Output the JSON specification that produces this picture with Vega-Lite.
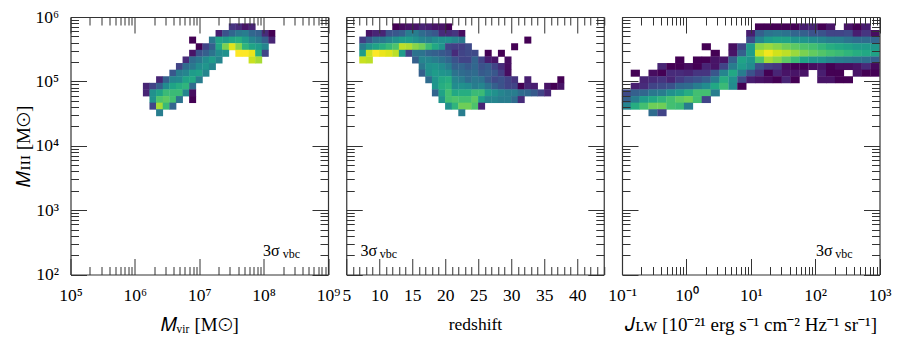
{"$schema":"https://vega.github.io/schema/vega-lite/v6.json","background":"white","padding":{"left":14.5,"top":8,"right":4,"bottom":4},"spacing":17.75,"bounds":"flush","config":{"view":{"stroke":null},"font":"Liberation Serif"},
"datasets":{
"p1":[
{"x":3.26e7,"y":7.02e5,"c":0.15},{"x":4.12e7,"y":7.02e5,"c":0.12},{"x":5.22e7,"y":7.02e5,"c":0.05},{"x":6.62e7,"y":7.02e5,"c":0.1},
{"x":2.03e7,"y":5.54e5,"c":0.08},{"x":2.57e7,"y":5.54e5,"c":0.25},{"x":3.26e7,"y":5.54e5,"c":0.33},{"x":4.12e7,"y":5.54e5,"c":0.4},{"x":5.22e7,"y":5.54e5,"c":0.42},{"x":6.62e7,"y":5.54e5,"c":0.33},{"x":8.38e7,"y":5.54e5,"c":0.3},{"x":1.06e8,"y":5.54e5,"c":0.12},{"x":1.34e8,"y":5.54e5,"c":0},
{"x":7.89e6,"y":4.38e5,"c":0},{"x":1.6e7,"y":4.38e5,"c":0.4},{"x":2.03e7,"y":4.38e5,"c":0.58},{"x":2.57e7,"y":4.38e5,"c":0.55},{"x":3.26e7,"y":4.38e5,"c":0.6},{"x":4.12e7,"y":4.38e5,"c":0.62},{"x":5.22e7,"y":4.38e5,"c":0.55},{"x":6.62e7,"y":4.38e5,"c":0.45},{"x":8.38e7,"y":4.38e5,"c":0.4},{"x":1.06e8,"y":4.38e5,"c":0.3},{"x":1.34e8,"y":4.38e5,"c":0.1},
{"x":1e7,"y":3.45e5,"c":0},{"x":1.27e7,"y":3.45e5,"c":0.2},{"x":1.6e7,"y":3.45e5,"c":0.3},{"x":2.03e7,"y":3.45e5,"c":0.6},{"x":2.57e7,"y":3.45e5,"c":0.8},{"x":3.26e7,"y":3.45e5,"c":0.95},{"x":4.12e7,"y":3.45e5,"c":0.82},{"x":5.22e7,"y":3.45e5,"c":0.65},{"x":6.62e7,"y":3.45e5,"c":0.58},{"x":8.38e7,"y":3.45e5,"c":0.55},{"x":1.06e8,"y":3.45e5,"c":0.45},
{"x":7.89e6,"y":2.73e5,"c":0.05},{"x":1e7,"y":2.73e5,"c":0.25},{"x":1.27e7,"y":2.73e5,"c":0.3},{"x":1.6e7,"y":2.73e5,"c":0.38},{"x":2.03e7,"y":2.73e5,"c":0.48},{"x":2.57e7,"y":2.73e5,"c":0.5},{"x":4.12e7,"y":2.73e5,"c":1},{"x":5.22e7,"y":2.73e5,"c":1},{"x":6.62e7,"y":2.73e5,"c":0.97},{"x":8.38e7,"y":2.73e5,"c":0.62},{"x":1.06e8,"y":2.73e5,"c":0.2},
{"x":6.24e6,"y":2.15e5,"c":0.12},{"x":7.89e6,"y":2.15e5,"c":0.35},{"x":1e7,"y":2.15e5,"c":0.4},{"x":1.27e7,"y":2.15e5,"c":0.48},{"x":1.6e7,"y":2.15e5,"c":0.55},{"x":2.03e7,"y":2.15e5,"c":0.45},{"x":6.62e7,"y":2.15e5,"c":0.92},{"x":8.38e7,"y":2.15e5,"c":0.87},
{"x":4.92e6,"y":1.7e5,"c":0.2},{"x":6.24e6,"y":1.7e5,"c":0.35},{"x":7.89e6,"y":1.7e5,"c":0.4},{"x":1e7,"y":1.7e5,"c":0.48},{"x":1.27e7,"y":1.7e5,"c":0.52},{"x":1.6e7,"y":1.7e5,"c":0.45},
{"x":3.89e6,"y":1.34e5,"c":0.27},{"x":4.92e6,"y":1.34e5,"c":0.42},{"x":6.24e6,"y":1.34e5,"c":0.45},{"x":7.89e6,"y":1.34e5,"c":0.55},{"x":1e7,"y":1.34e5,"c":0.57},{"x":1.27e7,"y":1.34e5,"c":0.45},
{"x":2.42e6,"y":1.06e5,"c":0.1},{"x":3.07e6,"y":1.06e5,"c":0.3},{"x":3.89e6,"y":1.06e5,"c":0.45},{"x":4.92e6,"y":1.06e5,"c":0.47},{"x":6.24e6,"y":1.06e5,"c":0.58},{"x":7.89e6,"y":1.06e5,"c":0.6},{"x":1e7,"y":1.06e5,"c":0.42},
{"x":1.51e6,"y":8.38e4,"c":0.1},{"x":1.91e6,"y":8.38e4,"c":0.2},{"x":2.42e6,"y":8.38e4,"c":0.3},{"x":3.07e6,"y":8.38e4,"c":0.48},{"x":3.89e6,"y":8.38e4,"c":0.58},{"x":4.92e6,"y":8.38e4,"c":0.62},{"x":6.24e6,"y":8.38e4,"c":0.65},{"x":7.89e6,"y":8.38e4,"c":0.35},
{"x":1.51e6,"y":6.62e4,"c":0.1},{"x":1.91e6,"y":6.62e4,"c":0.5},{"x":2.42e6,"y":6.62e4,"c":0.58},{"x":3.07e6,"y":6.62e4,"c":0.68},{"x":3.89e6,"y":6.62e4,"c":0.68},{"x":4.92e6,"y":6.62e4,"c":0.68},{"x":6.24e6,"y":6.62e4,"c":0.45},{"x":7.89e6,"y":6.62e4,"c":0.03},
{"x":1.91e6,"y":5.22e4,"c":0.5},{"x":2.42e6,"y":5.22e4,"c":0.72},{"x":3.07e6,"y":5.22e4,"c":0.75},{"x":3.89e6,"y":5.22e4,"c":0.7},{"x":4.92e6,"y":5.22e4,"c":0.38},{"x":7.89e6,"y":5.22e4,"c":0},
{"x":1.91e6,"y":4.12e4,"c":0.2},{"x":2.42e6,"y":4.12e4,"c":0.87},{"x":3.07e6,"y":4.12e4,"c":0.68},{"x":3.89e6,"y":4.12e4,"c":0.32},
{"x":2.42e6,"y":3.26e4,"c":0.42}
],
"p2":[
{"x":12.5,"y":7.02e5,"c":0},{"x":13.5,"y":7.02e5,"c":0.03},{"x":14.5,"y":7.02e5,"c":0.05},{"x":15.5,"y":7.02e5,"c":0.05},{"x":16.5,"y":7.02e5,"c":0.1},{"x":17.5,"y":7.02e5,"c":0.08},{"x":18.5,"y":7.02e5,"c":0.05},{"x":19.5,"y":7.02e5,"c":0.05},{"x":20.5,"y":7.02e5,"c":0},
{"x":8.5,"y":5.54e5,"c":0.05},{"x":9.5,"y":5.54e5,"c":0.1},{"x":10.5,"y":5.54e5,"c":0.1},{"x":11.5,"y":5.54e5,"c":0.25},{"x":12.5,"y":5.54e5,"c":0.27},{"x":13.5,"y":5.54e5,"c":0.3},{"x":14.5,"y":5.54e5,"c":0.42},{"x":15.5,"y":5.54e5,"c":0.42},{"x":16.5,"y":5.54e5,"c":0.35},{"x":17.5,"y":5.54e5,"c":0.3},{"x":18.5,"y":5.54e5,"c":0.27},{"x":19.5,"y":5.54e5,"c":0.12},{"x":20.5,"y":5.54e5,"c":0.12},{"x":21.5,"y":5.54e5,"c":0.15},{"x":22.5,"y":5.54e5,"c":0.03},
{"x":7.5,"y":4.38e5,"c":0.18},{"x":8.5,"y":4.38e5,"c":0.28},{"x":9.5,"y":4.38e5,"c":0.38},{"x":10.5,"y":4.38e5,"c":0.4},{"x":11.5,"y":4.38e5,"c":0.45},{"x":12.5,"y":4.38e5,"c":0.5},{"x":13.5,"y":4.38e5,"c":0.55},{"x":14.5,"y":4.38e5,"c":0.55},{"x":15.5,"y":4.38e5,"c":0.5},{"x":16.5,"y":4.38e5,"c":0.45},{"x":17.5,"y":4.38e5,"c":0.43},{"x":18.5,"y":4.38e5,"c":0.48},{"x":19.5,"y":4.38e5,"c":0.5},{"x":20.5,"y":4.38e5,"c":0.5},{"x":21.5,"y":4.38e5,"c":0.45},{"x":22.5,"y":4.38e5,"c":0.4},{"x":32.5,"y":4.38e5,"c":0},
{"x":7.5,"y":3.45e5,"c":0.42},{"x":8.5,"y":3.45e5,"c":0.52},{"x":9.5,"y":3.45e5,"c":0.58},{"x":10.5,"y":3.45e5,"c":0.62},{"x":11.5,"y":3.45e5,"c":0.67},{"x":12.5,"y":3.45e5,"c":0.72},{"x":13.5,"y":3.45e5,"c":0.9},{"x":14.5,"y":3.45e5,"c":0.88},{"x":15.5,"y":3.45e5,"c":0.82},{"x":16.5,"y":3.45e5,"c":0.78},{"x":17.5,"y":3.45e5,"c":0.68},{"x":18.5,"y":3.45e5,"c":0.6},{"x":19.5,"y":3.45e5,"c":0.52},{"x":20.5,"y":3.45e5,"c":0.2},{"x":21.5,"y":3.45e5,"c":0.18},{"x":22.5,"y":3.45e5,"c":0.18},{"x":23.5,"y":3.45e5,"c":0.22},{"x":30.5,"y":3.45e5,"c":0},
{"x":7.5,"y":2.73e5,"c":0.55},{"x":8.5,"y":2.73e5,"c":0.92},{"x":9.5,"y":2.73e5,"c":1},{"x":10.5,"y":2.73e5,"c":0.97},{"x":11.5,"y":2.73e5,"c":0.95},{"x":12.5,"y":2.73e5,"c":0.9},{"x":13.5,"y":2.73e5,"c":0.55},{"x":14.5,"y":2.73e5,"c":0.2},{"x":15.5,"y":2.73e5,"c":0.38},{"x":16.5,"y":2.73e5,"c":0.38},{"x":17.5,"y":2.73e5,"c":0.32},{"x":18.5,"y":2.73e5,"c":0.3},{"x":19.5,"y":2.73e5,"c":0.28},{"x":20.5,"y":2.73e5,"c":0.25},{"x":21.5,"y":2.73e5,"c":0.12},{"x":22.5,"y":2.73e5,"c":0.2},{"x":23.5,"y":2.73e5,"c":0.22},{"x":24.5,"y":2.73e5,"c":0.22},{"x":26.5,"y":2.73e5,"c":0},{"x":28.5,"y":2.73e5,"c":0},
{"x":7.5,"y":2.15e5,"c":0.92},{"x":8.5,"y":2.15e5,"c":0.9},{"x":15.5,"y":2.15e5,"c":0.3},{"x":16.5,"y":2.15e5,"c":0.45},{"x":17.5,"y":2.15e5,"c":0.45},{"x":18.5,"y":2.15e5,"c":0.42},{"x":19.5,"y":2.15e5,"c":0.38},{"x":20.5,"y":2.15e5,"c":0.33},{"x":21.5,"y":2.15e5,"c":0.25},{"x":22.5,"y":2.15e5,"c":0.2},{"x":23.5,"y":2.15e5,"c":0.2},{"x":24.5,"y":2.15e5,"c":0.32},{"x":25.5,"y":2.15e5,"c":0.2},{"x":26.5,"y":2.15e5,"c":0.08},{"x":27.5,"y":2.15e5,"c":0.05},{"x":29.5,"y":2.15e5,"c":0.03},
{"x":16.5,"y":1.7e5,"c":0.4},{"x":17.5,"y":1.7e5,"c":0.5},{"x":18.5,"y":1.7e5,"c":0.52},{"x":19.5,"y":1.7e5,"c":0.48},{"x":20.5,"y":1.7e5,"c":0.42},{"x":21.5,"y":1.7e5,"c":0.3},{"x":22.5,"y":1.7e5,"c":0.32},{"x":23.5,"y":1.7e5,"c":0.28},{"x":24.5,"y":1.7e5,"c":0.33},{"x":25.5,"y":1.7e5,"c":0.25},{"x":26.5,"y":1.7e5,"c":0.28},{"x":27.5,"y":1.7e5,"c":0.2},{"x":28.5,"y":1.7e5,"c":0.12},{"x":29.5,"y":1.7e5,"c":0.03},
{"x":16.5,"y":1.34e5,"c":0.3},{"x":17.5,"y":1.34e5,"c":0.5},{"x":18.5,"y":1.34e5,"c":0.55},{"x":19.5,"y":1.34e5,"c":0.52},{"x":20.5,"y":1.34e5,"c":0.5},{"x":21.5,"y":1.34e5,"c":0.38},{"x":22.5,"y":1.34e5,"c":0.35},{"x":23.5,"y":1.34e5,"c":0.33},{"x":24.5,"y":1.34e5,"c":0.35},{"x":25.5,"y":1.34e5,"c":0.28},{"x":26.5,"y":1.34e5,"c":0.3},{"x":27.5,"y":1.34e5,"c":0.27},{"x":28.5,"y":1.34e5,"c":0.18},{"x":29.5,"y":1.34e5,"c":0.03},
{"x":17.5,"y":1.06e5,"c":0.35},{"x":18.5,"y":1.06e5,"c":0.52},{"x":19.5,"y":1.06e5,"c":0.6},{"x":20.5,"y":1.06e5,"c":0.62},{"x":21.5,"y":1.06e5,"c":0.45},{"x":22.5,"y":1.06e5,"c":0.42},{"x":23.5,"y":1.06e5,"c":0.35},{"x":24.5,"y":1.06e5,"c":0.4},{"x":25.5,"y":1.06e5,"c":0.38},{"x":26.5,"y":1.06e5,"c":0.28},{"x":27.5,"y":1.06e5,"c":0.22},{"x":28.5,"y":1.06e5,"c":0.25},{"x":29.5,"y":1.06e5,"c":0.2},{"x":30.5,"y":1.06e5,"c":0.15},{"x":32.5,"y":1.06e5,"c":0.08},{"x":37.5,"y":1.06e5,"c":0},
{"x":18.5,"y":8.38e4,"c":0.52},{"x":19.5,"y":8.38e4,"c":0.62},{"x":20.5,"y":8.38e4,"c":0.65},{"x":21.5,"y":8.38e4,"c":0.48},{"x":22.5,"y":8.38e4,"c":0.5},{"x":23.5,"y":8.38e4,"c":0.48},{"x":24.5,"y":8.38e4,"c":0.42},{"x":25.5,"y":8.38e4,"c":0.45},{"x":26.5,"y":8.38e4,"c":0.38},{"x":27.5,"y":8.38e4,"c":0.3},{"x":28.5,"y":8.38e4,"c":0.25},{"x":29.5,"y":8.38e4,"c":0.2},{"x":30.5,"y":8.38e4,"c":0.2},{"x":31.5,"y":8.38e4,"c":0},{"x":32.5,"y":8.38e4,"c":0.1},{"x":33.5,"y":8.38e4,"c":0.08},{"x":35.5,"y":8.38e4,"c":0.05},{"x":36.5,"y":8.38e4,"c":0},{"x":37.5,"y":8.38e4,"c":0.05},
{"x":18.5,"y":6.62e4,"c":0.32},{"x":19.5,"y":6.62e4,"c":0.58},{"x":20.5,"y":6.62e4,"c":0.7},{"x":21.5,"y":6.62e4,"c":0.6},{"x":22.5,"y":6.62e4,"c":0.62},{"x":23.5,"y":6.62e4,"c":0.62},{"x":24.5,"y":6.62e4,"c":0.68},{"x":25.5,"y":6.62e4,"c":0.68},{"x":26.5,"y":6.62e4,"c":0.55},{"x":27.5,"y":6.62e4,"c":0.5},{"x":28.5,"y":6.62e4,"c":0.45},{"x":29.5,"y":6.62e4,"c":0.42},{"x":30.5,"y":6.62e4,"c":0.42},{"x":31.5,"y":6.62e4,"c":0.35},{"x":32.5,"y":6.62e4,"c":0.33},{"x":33.5,"y":6.62e4,"c":0.28},{"x":34.5,"y":6.62e4,"c":0.2},{"x":35.5,"y":6.62e4,"c":0.1},
{"x":19.5,"y":5.22e4,"c":0.52},{"x":20.5,"y":5.22e4,"c":0.7},{"x":21.5,"y":5.22e4,"c":0.72},{"x":22.5,"y":5.22e4,"c":0.7},{"x":23.5,"y":5.22e4,"c":0.7},{"x":24.5,"y":5.22e4,"c":0.75},{"x":25.5,"y":5.22e4,"c":0.55},{"x":26.5,"y":5.22e4,"c":0.45},{"x":27.5,"y":5.22e4,"c":0.45},{"x":28.5,"y":5.22e4,"c":0.42},{"x":29.5,"y":5.22e4,"c":0.42},{"x":30.5,"y":5.22e4,"c":0.35},{"x":31.5,"y":5.22e4,"c":0.12},
{"x":20.5,"y":4.12e4,"c":0.5},{"x":21.5,"y":4.12e4,"c":0.65},{"x":22.5,"y":4.12e4,"c":0.78},{"x":23.5,"y":4.12e4,"c":0.78},{"x":24.5,"y":4.12e4,"c":0.72},{"x":25.5,"y":4.12e4,"c":0.1},
{"x":22.5,"y":3.26e4,"c":0.42}
],
"p3":[
{"x":13.7,"y":7.02e5,"c":0},{"x":18.9,"y":7.02e5,"c":0},{"x":25.9,"y":7.02e5,"c":0},{"x":35.6,"y":7.02e5,"c":0},{"x":48.9,"y":7.02e5,"c":0},{"x":67.2,"y":7.02e5,"c":0.08},{"x":92.4,"y":7.02e5,"c":0.1},{"x":127,"y":7.02e5,"c":0},{"x":174,"y":7.02e5,"c":0.05},{"x":329,"y":7.02e5,"c":0.05},{"x":452,"y":7.02e5,"c":0},{"x":621,"y":7.02e5,"c":0.08},
{"x":10,"y":5.54e5,"c":0.08},{"x":13.7,"y":5.54e5,"c":0.3},{"x":18.9,"y":5.54e5,"c":0.38},{"x":25.9,"y":5.54e5,"c":0.4},{"x":35.6,"y":5.54e5,"c":0.38},{"x":48.9,"y":5.54e5,"c":0.32},{"x":67.2,"y":5.54e5,"c":0.3},{"x":92.4,"y":5.54e5,"c":0.25},{"x":127,"y":5.54e5,"c":0.25},{"x":174,"y":5.54e5,"c":0.2},{"x":239,"y":5.54e5,"c":0.2},{"x":329,"y":5.54e5,"c":0.22},{"x":452,"y":5.54e5,"c":0.08},{"x":621,"y":5.54e5,"c":0.15},{"x":853,"y":5.54e5,"c":0.03},
{"x":10,"y":4.38e5,"c":0.22},{"x":13.7,"y":4.38e5,"c":0.45},{"x":18.9,"y":4.38e5,"c":0.55},{"x":25.9,"y":4.38e5,"c":0.58},{"x":35.6,"y":4.38e5,"c":0.58},{"x":48.9,"y":4.38e5,"c":0.52},{"x":67.2,"y":4.38e5,"c":0.52},{"x":92.4,"y":4.38e5,"c":0.48},{"x":127,"y":4.38e5,"c":0.45},{"x":174,"y":4.38e5,"c":0.42},{"x":239,"y":4.38e5,"c":0.42},{"x":329,"y":4.38e5,"c":0.38},{"x":452,"y":4.38e5,"c":0.35},{"x":621,"y":4.38e5,"c":0.35},{"x":853,"y":4.38e5,"c":0.32},
{"x":2.04,"y":3.45e5,"c":0},{"x":5.3,"y":3.45e5,"c":0.03},{"x":7.28,"y":3.45e5,"c":0.2},{"x":10,"y":3.45e5,"c":0.55},{"x":13.7,"y":3.45e5,"c":0.82},{"x":18.9,"y":3.45e5,"c":0.85},{"x":25.9,"y":3.45e5,"c":0.82},{"x":35.6,"y":3.45e5,"c":0.78},{"x":48.9,"y":3.45e5,"c":0.75},{"x":67.2,"y":3.45e5,"c":0.72},{"x":92.4,"y":3.45e5,"c":0.7},{"x":127,"y":3.45e5,"c":0.66},{"x":174,"y":3.45e5,"c":0.62},{"x":239,"y":3.45e5,"c":0.6},{"x":329,"y":3.45e5,"c":0.58},{"x":452,"y":3.45e5,"c":0.55},{"x":621,"y":3.45e5,"c":0.55},{"x":853,"y":3.45e5,"c":0.53},
{"x":2.81,"y":2.73e5,"c":0},{"x":5.3,"y":2.73e5,"c":0.05},{"x":7.28,"y":2.73e5,"c":0.3},{"x":10,"y":2.73e5,"c":0.55},{"x":13.7,"y":2.73e5,"c":0.92},{"x":18.9,"y":2.73e5,"c":0.98},{"x":25.9,"y":2.73e5,"c":0.93},{"x":35.6,"y":2.73e5,"c":0.9},{"x":48.9,"y":2.73e5,"c":0.85},{"x":67.2,"y":2.73e5,"c":0.8},{"x":92.4,"y":2.73e5,"c":0.76},{"x":127,"y":2.73e5,"c":0.73},{"x":174,"y":2.73e5,"c":0.7},{"x":239,"y":2.73e5,"c":0.68},{"x":329,"y":2.73e5,"c":0.65},{"x":452,"y":2.73e5,"c":0.62},{"x":621,"y":2.73e5,"c":0.6},{"x":853,"y":2.73e5,"c":0.58},
{"x":0.789,"y":2.15e5,"c":0},{"x":1.49,"y":2.15e5,"c":0},{"x":2.04,"y":2.15e5,"c":0},{"x":2.81,"y":2.15e5,"c":0.05},{"x":3.85,"y":2.15e5,"c":0.05},{"x":5.3,"y":2.15e5,"c":0.3},{"x":7.28,"y":2.15e5,"c":0.58},{"x":10,"y":2.15e5,"c":0.52},{"x":13.7,"y":2.15e5,"c":0.72},{"x":18.9,"y":2.15e5,"c":0.87},{"x":25.9,"y":2.15e5,"c":0.82},{"x":35.6,"y":2.15e5,"c":0.75},{"x":48.9,"y":2.15e5,"c":0.68},{"x":67.2,"y":2.15e5,"c":0.58},{"x":92.4,"y":2.15e5,"c":0.52},{"x":127,"y":2.15e5,"c":0.5},{"x":174,"y":2.15e5,"c":0.45},{"x":239,"y":2.15e5,"c":0.42},{"x":329,"y":2.15e5,"c":0.4},{"x":452,"y":2.15e5,"c":0.38},{"x":621,"y":2.15e5,"c":0.36},{"x":853,"y":2.15e5,"c":0.3},
{"x":0.418,"y":1.7e5,"c":0.1},{"x":0.574,"y":1.7e5,"c":0},{"x":0.789,"y":1.7e5,"c":0},{"x":1.08,"y":1.7e5,"c":0.03},{"x":1.49,"y":1.7e5,"c":0},{"x":2.04,"y":1.7e5,"c":0.1},{"x":2.81,"y":1.7e5,"c":0.05},{"x":3.85,"y":1.7e5,"c":0.2},{"x":5.3,"y":1.7e5,"c":0.42},{"x":7.28,"y":1.7e5,"c":0.55},{"x":10,"y":1.7e5,"c":0.48},{"x":13.7,"y":1.7e5,"c":0.25},{"x":18.9,"y":1.7e5,"c":0.18},{"x":25.9,"y":1.7e5,"c":0.15},{"x":35.6,"y":1.7e5,"c":0.03},{"x":48.9,"y":1.7e5,"c":0},{"x":67.2,"y":1.7e5,"c":0},{"x":92.4,"y":1.7e5,"c":0.03},{"x":127,"y":1.7e5,"c":0.05},{"x":174,"y":1.7e5,"c":0},{"x":239,"y":1.7e5,"c":0.03},{"x":329,"y":1.7e5,"c":0.03},{"x":452,"y":1.7e5,"c":0.05},{"x":621,"y":1.7e5,"c":0.12},{"x":853,"y":1.7e5,"c":0.02},
{"x":0.161,"y":1.34e5,"c":0},{"x":0.304,"y":1.34e5,"c":0.03},{"x":0.418,"y":1.34e5,"c":0},{"x":0.574,"y":1.34e5,"c":0.12},{"x":0.789,"y":1.34e5,"c":0.12},{"x":1.08,"y":1.34e5,"c":0.1},{"x":1.49,"y":1.34e5,"c":0.15},{"x":2.04,"y":1.34e5,"c":0.15},{"x":2.81,"y":1.34e5,"c":0.27},{"x":3.85,"y":1.34e5,"c":0.45},{"x":5.3,"y":1.34e5,"c":0.6},{"x":7.28,"y":1.34e5,"c":0.42},{"x":10,"y":1.34e5,"c":0.25},{"x":13.7,"y":1.34e5,"c":0.15},{"x":18.9,"y":1.34e5,"c":0},{"x":25.9,"y":1.34e5,"c":0.1},{"x":35.6,"y":1.34e5,"c":0.05},{"x":48.9,"y":1.34e5,"c":0.05},{"x":67.2,"y":1.34e5,"c":0.05},{"x":127,"y":1.34e5,"c":0.08},{"x":174,"y":1.34e5,"c":0},{"x":239,"y":1.34e5,"c":0},{"x":452,"y":1.34e5,"c":0.05},{"x":621,"y":1.34e5,"c":0},{"x":853,"y":1.34e5,"c":0},
{"x":0.221,"y":1.06e5,"c":0.1},{"x":0.304,"y":1.06e5,"c":0.12},{"x":0.418,"y":1.06e5,"c":0.15},{"x":0.574,"y":1.06e5,"c":0.1},{"x":0.789,"y":1.06e5,"c":0.17},{"x":1.08,"y":1.06e5,"c":0.22},{"x":1.49,"y":1.06e5,"c":0.25},{"x":2.04,"y":1.06e5,"c":0.3},{"x":2.81,"y":1.06e5,"c":0.42},{"x":3.85,"y":1.06e5,"c":0.62},{"x":5.3,"y":1.06e5,"c":0.5},{"x":7.28,"y":1.06e5,"c":0.22},{"x":10,"y":1.06e5,"c":0.08},{"x":13.7,"y":1.06e5,"c":0.05},{"x":18.9,"y":1.06e5,"c":0.03},{"x":25.9,"y":1.06e5,"c":0},{"x":35.6,"y":1.06e5,"c":0.1},{"x":48.9,"y":1.06e5,"c":0},{"x":127,"y":1.06e5,"c":0.05},{"x":174,"y":1.06e5,"c":0.05},{"x":239,"y":1.06e5,"c":0},{"x":329,"y":1.06e5,"c":0},
{"x":0.161,"y":8.38e4,"c":0.08},{"x":0.221,"y":8.38e4,"c":0.12},{"x":0.304,"y":8.38e4,"c":0.2},{"x":0.418,"y":8.38e4,"c":0.22},{"x":0.574,"y":8.38e4,"c":0.25},{"x":0.789,"y":8.38e4,"c":0.33},{"x":1.08,"y":8.38e4,"c":0.35},{"x":1.49,"y":8.38e4,"c":0.42},{"x":2.04,"y":8.38e4,"c":0.48},{"x":2.81,"y":8.38e4,"c":0.6},{"x":3.85,"y":8.38e4,"c":0.68},{"x":5.3,"y":8.38e4,"c":0.48},{"x":7.28,"y":8.38e4,"c":0},
{"x":0.117,"y":6.62e4,"c":0.22},{"x":0.161,"y":6.62e4,"c":0.3},{"x":0.221,"y":6.62e4,"c":0.33},{"x":0.304,"y":6.62e4,"c":0.4},{"x":0.418,"y":6.62e4,"c":0.42},{"x":0.574,"y":6.62e4,"c":0.5},{"x":0.789,"y":6.62e4,"c":0.55},{"x":1.08,"y":6.62e4,"c":0.62},{"x":1.49,"y":6.62e4,"c":0.7},{"x":2.04,"y":6.62e4,"c":0.7},{"x":2.81,"y":6.62e4,"c":0.42},
{"x":0.117,"y":5.22e4,"c":0.3},{"x":0.161,"y":5.22e4,"c":0.42},{"x":0.221,"y":5.22e4,"c":0.55},{"x":0.304,"y":5.22e4,"c":0.6},{"x":0.418,"y":5.22e4,"c":0.65},{"x":0.574,"y":5.22e4,"c":0.7},{"x":0.789,"y":5.22e4,"c":0.75},{"x":1.08,"y":5.22e4,"c":0.78},{"x":1.49,"y":5.22e4,"c":0.7},{"x":2.04,"y":5.22e4,"c":0.2},
{"x":0.117,"y":4.12e4,"c":0.45},{"x":0.161,"y":4.12e4,"c":0.62},{"x":0.221,"y":4.12e4,"c":0.7},{"x":0.304,"y":4.12e4,"c":0.78},{"x":0.418,"y":4.12e4,"c":0.78},{"x":0.574,"y":4.12e4,"c":0.7},{"x":0.789,"y":4.12e4,"c":0.68},{"x":1.08,"y":4.12e4,"c":0.42},
{"x":0.304,"y":3.26e4,"c":0.35},{"x":0.418,"y":3.26e4,"c":0.2}
]},
"hconcat":[
{"width":257.5,"height":257.5,"layer":[
{"data":{"name":"p1"},"mark":{"type":"rect","width":7,"height":7},"encoding":{
"x":{"field":"x","type":"quantitative","scale":{"type":"log","domain":[1e5,1e9],"nice":false},"axis":{"orient":"bottom","zindex":1,"title":"𝑀ᵥᵢᵣ [M⊙]","titleFont":"Liberation Serif","titleFontWeight":"normal","titleFontSize":19,"titleColor":"black","titlePadding":3,"domainColor":"#333","domainWidth":1.2,"tickColor":"#333","tickWidth":1,"grid":false,"values":[1e5,2e5,3e5,4e5,5e5,6e5,7e5,8e5,9e5,1e6,2e6,3e6,4e6,5e6,6e6,7e6,8e6,9e6,1e7,2e7,3e7,4e7,5e7,6e7,7e7,8e7,9e7,1e8,2e8,3e8,4e8,5e8,6e8,7e8,8e8,9e8,1e9],"tickSize":{"condition":{"test":"abs(log(datum.value)/LN10-round(log(datum.value)/LN10))<0.000001","value":-16},"value":-8},"labelExpr":"datum.value==1e5?'10⁵':datum.value==1e6?'10⁶':datum.value==1e7?'10⁷':datum.value==1e8?'10⁸':datum.value==1e9?'10⁹':''","labelFont":"Liberation Serif","labelFontSize":17.5,"labelColor":"black","labelPadding":28,"labelOverlap":false,"labelFlush":false,"labelBound":false}},
"y":{"field":"y","type":"quantitative","scale":{"type":"log","domain":[1e2,1e6],"nice":false},"axis":{"orient":"left","zindex":1,"title":"𝑀ɪɪɪ [M⊙]","titleFont":"Liberation Serif","titleFontWeight":"normal","titleFontSize":19,"titleColor":"black","titlePadding":1,"domainColor":"#333","domainWidth":1.2,"tickColor":"#333","tickWidth":1,"grid":false,"values":[1e2,2e2,3e2,4e2,5e2,6e2,7e2,8e2,9e2,1e3,2e3,3e3,4e3,5e3,6e3,7e3,8e3,9e3,1e4,2e4,3e4,4e4,5e4,6e4,7e4,8e4,9e4,1e5,2e5,3e5,4e5,5e5,6e5,7e5,8e5,9e5,1e6],"tickSize":{"condition":{"test":"abs(log(datum.value)/LN10-round(log(datum.value)/LN10))<0.000001","value":-16},"value":-8},"labelExpr":"datum.value==1e2?'10²':datum.value==1e3?'10³':datum.value==1e4?'10⁴':datum.value==1e5?'10⁵':datum.value==1e6?'10⁶':''","labelFont":"Liberation Serif","labelFontSize":17.5,"labelColor":"black","labelPadding":28,"labelOverlap":false,"labelFlush":false,"labelBound":false}},
"color":{"field":"c","type":"quantitative","scale":{"scheme":"viridis","domain":[0,1]},"legend":null}}},
{"data":{"values":[{"label":"3σ"}]},"mark":{"type":"text","align":"left","baseline":"alphabetic","font":"Liberation Serif","fontSize":16,"color":"black"},"encoding":{
"x":{"datum":9.8e7,"type":"quantitative","axis":{"orient":"top","zindex":1,"title":null,"labels":false,"domainColor":"#333","domainWidth":1.2,"tickColor":"#333","tickWidth":1,"grid":false,"values":[1e5,2e5,3e5,4e5,5e5,6e5,7e5,8e5,9e5,1e6,2e6,3e6,4e6,5e6,6e6,7e6,8e6,9e6,1e7,2e7,3e7,4e7,5e7,6e7,7e7,8e7,9e7,1e8,2e8,3e8,4e8,5e8,6e8,7e8,8e8,9e8,1e9],"tickSize":{"condition":{"test":"abs(log(datum.value)/LN10-round(log(datum.value)/LN10))<0.000001","value":-16},"value":-8}}},
"y":{"datum":192,"type":"quantitative","axis":{"orient":"right","zindex":1,"title":null,"labels":false,"domainColor":"#333","domainWidth":1.2,"tickColor":"#333","tickWidth":1,"grid":false,"values":[1e2,2e2,3e2,4e2,5e2,6e2,7e2,8e2,9e2,1e3,2e3,3e3,4e3,5e3,6e3,7e3,8e3,9e3,1e4,2e4,3e4,4e4,5e4,6e4,7e4,8e4,9e4,1e5,2e5,3e5,4e5,5e5,6e5,7e5,8e5,9e5,1e6],"tickSize":{"condition":{"test":"abs(log(datum.value)/LN10-round(log(datum.value)/LN10))<0.000001","value":-16},"value":-8}}},
"text":{"field":"label"}}},
{"data":{"values":[{"label":"vbc"}]},"mark":{"type":"text","align":"left","baseline":"alphabetic","font":"Liberation Serif","fontSize":12,"color":"black"},"encoding":{"x":{"datum":1.98e8,"type":"quantitative","axis":null},"y":{"datum":179,"type":"quantitative","axis":null},"text":{"field":"label"}}}
],"resolve":{"axis":{"x":"independent","y":"independent"}}},
{"width":257.5,"height":257.5,"layer":[
{"data":{"name":"p2"},"mark":{"type":"rect","width":7,"height":7},"encoding":{
"x":{"field":"x","type":"quantitative","scale":{"type":"linear","domain":[5,44],"nice":false},"axis":{"orient":"bottom","zindex":1,"title":"redshift","titleFont":"Liberation Serif","titleFontWeight":"normal","titleFontSize":17.5,"titleColor":"black","titlePadding":3,"domainColor":"#333","domainWidth":1.2,"tickColor":"#333","tickWidth":1,"grid":false,"values":[5,6,7,8,9,10,11,12,13,14,15,16,17,18,19,20,21,22,23,24,25,26,27,28,29,30,31,32,33,34,35,36,37,38,39,40,41,42,43,44],"tickSize":{"condition":{"test":"datum.value%5==0","value":-16},"value":-8},"labelExpr":"datum.value%5==0?datum.value+'':''","labelFont":"Liberation Serif","labelFontSize":17.5,"labelColor":"black","labelPadding":28,"labelOverlap":false,"labelFlush":false,"labelBound":false}},
"y":{"field":"y","type":"quantitative","scale":{"type":"log","domain":[1e2,1e6],"nice":false},"axis":{"orient":"left","zindex":1,"title":null,"labels":false,"domainColor":"#333","domainWidth":1.2,"tickColor":"#333","tickWidth":1,"grid":false,"values":[1e2,2e2,3e2,4e2,5e2,6e2,7e2,8e2,9e2,1e3,2e3,3e3,4e3,5e3,6e3,7e3,8e3,9e3,1e4,2e4,3e4,4e4,5e4,6e4,7e4,8e4,9e4,1e5,2e5,3e5,4e5,5e5,6e5,7e5,8e5,9e5,1e6],"tickSize":{"condition":{"test":"abs(log(datum.value)/LN10-round(log(datum.value)/LN10))<0.000001","value":-16},"value":-8}}},
"color":{"field":"c","type":"quantitative","scale":{"scheme":"viridis","domain":[0,1]},"legend":null}}},
{"data":{"values":[{"label":"3σ"}]},"mark":{"type":"text","align":"left","baseline":"alphabetic","font":"Liberation Serif","fontSize":16,"color":"black"},"encoding":{
"x":{"datum":7.15,"type":"quantitative","axis":{"orient":"top","zindex":1,"title":null,"labels":false,"domainColor":"#333","domainWidth":1.2,"tickColor":"#333","tickWidth":1,"grid":false,"values":[5,6,7,8,9,10,11,12,13,14,15,16,17,18,19,20,21,22,23,24,25,26,27,28,29,30,31,32,33,34,35,36,37,38,39,40,41,42,43,44],"tickSize":{"condition":{"test":"datum.value%5==0","value":-16},"value":-8}}},
"y":{"datum":192,"type":"quantitative","axis":{"orient":"right","zindex":1,"title":null,"labels":false,"domainColor":"#333","domainWidth":1.2,"tickColor":"#333","tickWidth":1,"grid":false,"values":[1e2,2e2,3e2,4e2,5e2,6e2,7e2,8e2,9e2,1e3,2e3,3e3,4e3,5e3,6e3,7e3,8e3,9e3,1e4,2e4,3e4,4e4,5e4,6e4,7e4,8e4,9e4,1e5,2e5,3e5,4e5,5e5,6e5,7e5,8e5,9e5,1e6],"tickSize":{"condition":{"test":"abs(log(datum.value)/LN10-round(log(datum.value)/LN10))<0.000001","value":-16},"value":-8}}},
"text":{"field":"label"}}},
{"data":{"values":[{"label":"vbc"}]},"mark":{"type":"text","align":"left","baseline":"alphabetic","font":"Liberation Serif","fontSize":12,"color":"black"},"encoding":{"x":{"datum":10.08,"type":"quantitative","axis":null},"y":{"datum":179,"type":"quantitative","axis":null},"text":{"field":"label"}}}
],"resolve":{"axis":{"x":"independent","y":"independent"}}},
{"width":257.5,"height":257.5,"layer":[
{"data":{"name":"p3"},"mark":{"type":"rect","width":9.2,"height":7},"encoding":{
"x":{"field":"x","type":"quantitative","scale":{"type":"log","domain":[0.1,1000],"nice":false},"axis":{"orient":"bottom","zindex":1,"title":"𝐽ʟᴡ [10⁻²¹ erg s⁻¹  cm⁻²  Hz⁻¹  sr⁻¹]","titleFont":"Liberation Serif","titleFontWeight":"normal","titleFontSize":19,"titleColor":"black","titlePadding":3,"domainColor":"#333","domainWidth":1.2,"tickColor":"#333","tickWidth":1,"grid":false,"values":[0.1,0.2,0.3,0.4,0.5,0.6,0.7,0.8,0.9,1,2,3,4,5,6,7,8,9,10,20,30,40,50,60,70,80,90,100,200,300,400,500,600,700,800,900,1000],"tickSize":{"condition":{"test":"abs(log(datum.value)/LN10-round(log(datum.value)/LN10))<0.000001","value":-16},"value":-8},"labelExpr":"datum.value==1000?'10³':datum.value==100?'10²':datum.value==10?'10¹':datum.value==1?'10⁰':abs(datum.value-0.1)<0.00001?'10⁻¹':''","labelFont":"Liberation Serif","labelFontSize":17.5,"labelColor":"black","labelPadding":28,"labelOverlap":false,"labelFlush":false,"labelBound":false}},
"y":{"field":"y","type":"quantitative","scale":{"type":"log","domain":[1e2,1e6],"nice":false},"axis":{"orient":"left","zindex":1,"title":null,"labels":false,"domainColor":"#333","domainWidth":1.2,"tickColor":"#333","tickWidth":1,"grid":false,"values":[1e2,2e2,3e2,4e2,5e2,6e2,7e2,8e2,9e2,1e3,2e3,3e3,4e3,5e3,6e3,7e3,8e3,9e3,1e4,2e4,3e4,4e4,5e4,6e4,7e4,8e4,9e4,1e5,2e5,3e5,4e5,5e5,6e5,7e5,8e5,9e5,1e6],"tickSize":{"condition":{"test":"abs(log(datum.value)/LN10-round(log(datum.value)/LN10))<0.000001","value":-16},"value":-8}}},
"color":{"field":"c","type":"quantitative","scale":{"scheme":"viridis","domain":[0,1]},"legend":null}}},
{"data":{"values":[{"label":"3σ"}]},"mark":{"type":"text","align":"left","baseline":"alphabetic","font":"Liberation Serif","fontSize":16,"color":"black"},"encoding":{
"x":{"datum":103,"type":"quantitative","axis":{"orient":"top","zindex":1,"title":null,"labels":false,"domainColor":"#333","domainWidth":1.2,"tickColor":"#333","tickWidth":1,"grid":false,"values":[0.1,0.2,0.3,0.4,0.5,0.6,0.7,0.8,0.9,1,2,3,4,5,6,7,8,9,10,20,30,40,50,60,70,80,90,100,200,300,400,500,600,700,800,900,1000],"tickSize":{"condition":{"test":"abs(log(datum.value)/LN10-round(log(datum.value)/LN10))<0.000001","value":-16},"value":-8}}},
"y":{"datum":192,"type":"quantitative","axis":{"orient":"right","zindex":1,"title":null,"labels":false,"domainColor":"#333","domainWidth":1.2,"tickColor":"#333","tickWidth":1,"grid":false,"values":[1e2,2e2,3e2,4e2,5e2,6e2,7e2,8e2,9e2,1e3,2e3,3e3,4e3,5e3,6e3,7e3,8e3,9e3,1e4,2e4,3e4,4e4,5e4,6e4,7e4,8e4,9e4,1e5,2e5,3e5,4e5,5e5,6e5,7e5,8e5,9e5,1e6],"tickSize":{"condition":{"test":"abs(log(datum.value)/LN10-round(log(datum.value)/LN10))<0.000001","value":-16},"value":-8}}},
"text":{"field":"label"}}},
{"data":{"values":[{"label":"vbc"}]},"mark":{"type":"text","align":"left","baseline":"alphabetic","font":"Liberation Serif","fontSize":12,"color":"black"},"encoding":{"x":{"datum":205,"type":"quantitative","axis":null},"y":{"datum":179,"type":"quantitative","axis":null},"text":{"field":"label"}}}
],"resolve":{"axis":{"x":"independent","y":"independent"}}}
]}
